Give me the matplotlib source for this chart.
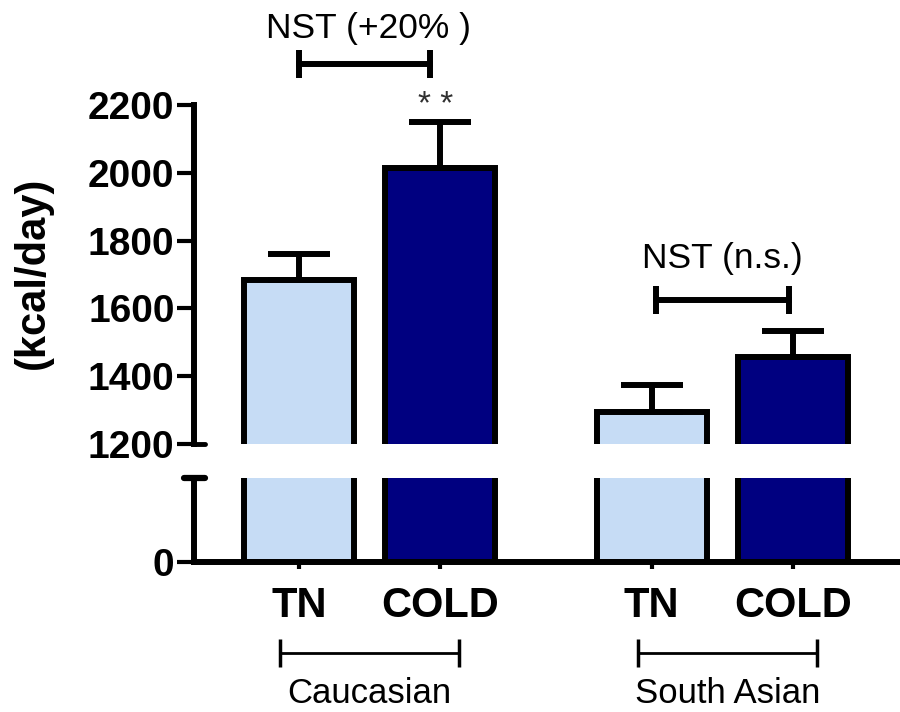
import matplotlib
matplotlib.use('Agg')
import matplotlib.pyplot as plt
import matplotlib.transforms as mtransforms
import numpy as np

plt.rcParams['font.family'] = ['Liberation Sans', 'DejaVu Sans']

# energy expenditure, mean and SEM
groups = ['Caucasian', 'South Asian']
group_x = [0.5, 3.04]
conditions = ['TN', 'COLD', 'TN', 'COLD']
bar_x = [0, 1, 2.5, 3.5]
ee_mean = [1685, 2014, 1293, 1457]
ee_sem = [75, 137, 81, 76]
bar_colors = ['#c6dcf5', '#000080', '#c6dcf5', '#000080']

W, H = 900, 712
fig = plt.figure(figsize=(W / 100, H / 100), dpi=100)


def px_rect(l, t, r, b):
    return [l / W, 1 - b / H, (r - l) / W, (b - t) / H]


ax_top = fig.add_axes(px_rect(194, 105, 900, 444))
ax_bot = fig.add_axes(px_rect(194, 478, 900, 562))

LW = 4.3
for ax in (ax_top, ax_bot):
    ax.bar(bar_x, ee_mean, width=0.78, color=bar_colors,
           edgecolor='black', linewidth=LW)
    ax.set_xlim(-0.745, 4.26)
    ax.spines['top'].set_visible(False)
    ax.spines['right'].set_visible(False)
    ax.spines['left'].set_linewidth(LW)
    ax.tick_params(axis='y', length=12, width=3, labelsize=28, pad=2)

# upper part of the broken axis
ax_top.set_ylim(1200, 2200)
ax_top.set_yticks([1200, 1400, 1600, 1800, 2000, 2200])
ax_top.set_yticklabels(['1200', '1400', '1600', '1800', '2000', '2200'],
                       fontweight='bold', fontsize=28)
ax_top.spines['bottom'].set_visible(False)
ax_top.set_xticks([])
ax_top.errorbar(bar_x, ee_mean, yerr=[np.zeros(len(ee_sem)), ee_sem],
                fmt='none', ecolor='black', elinewidth=LW,
                capsize=22, capthick=LW, zorder=3)

# lower part of the broken axis
ax_bot.set_ylim(0, 250)
ax_bot.set_yticks([0])
ax_bot.set_yticklabels(['0'], fontweight='bold', fontsize=28)
ax_bot.spines['bottom'].set_linewidth(LW)
ax_bot.set_xticks(bar_x)
ax_bot.set_xticklabels(conditions, fontweight='bold', fontsize=30)
ax_bot.tick_params(axis='x', length=5, width=3, pad=12)

# break marks on the y axis
ax_top.plot([0, 0.0156], [0, 0], transform=ax_top.transAxes, color='black',
            lw=3.5, clip_on=False, solid_capstyle='round')
ax_bot.plot([-0.014, 0.0156], [1, 1], transform=ax_bot.transAxes,
            color='black', lw=4.5, clip_on=False, solid_capstyle='round')

fig.text(33 / W, 1 - 273 / H, '(kcal/day)', rotation=90, fontsize=30,
         fontweight='bold', ha='center', va='center')

# NST comparison brackets
ax_top.plot([0, 0.93], [2320, 2320], color='black', lw=LW, marker='|',
            markersize=19.5, markeredgewidth=LW, clip_on=False)
ax_top.text(0.49, 2426, 'NST (+20% )', fontsize=25.5, ha='center',
            va='center')
ax_top.text(0.965, 2200, '* *', fontsize=24, ha='center', va='center',
            color='#303030')
ax_top.plot([2.53, 3.47], [1624, 1624], color='black', lw=LW, marker='|',
            markersize=19.5, markeredgewidth=LW, clip_on=False)
ax_top.text(3.0, 1747, 'NST (n.s.)', fontsize=25.5, ha='center',
            va='center')

# group brackets under the x axis
trans = mtransforms.blended_transform_factory(ax_bot.transData,
                                              fig.transFigure)
for gx, name in zip(group_x, groups):
    ax_bot.plot([gx - 0.635, gx + 0.635], [1 - 653 / H] * 2, transform=trans,
                color='black', lw=2, marker='|', markersize=19.5,
                markeredgewidth=2.5, clip_on=False)
    ax_bot.text(gx, 1 - 703 / H, name, transform=trans, fontsize=25,
                ha='center', va='baseline')

fig.savefig('out.png', dpi=100)
